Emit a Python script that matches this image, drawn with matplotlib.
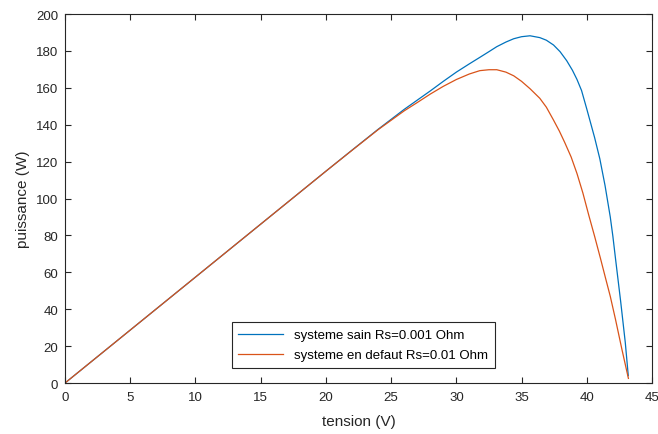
import numpy as np
import matplotlib.pyplot as plt

# courbes P(V)
v_sain = [0, 5, 10, 15, 20, 22, 24, 26, 28, 29, 30, 31, 31.8, 32.5, 33.1,
          33.8, 34.4, 35.0, 35.65, 36.4, 36.9, 37.45, 37.95, 38.46, 38.9,
          39.25, 39.6, 40.0, 40.6, 41.0, 41.4, 41.8, 42.0, 42.2, 42.6, 42.95,
          43.18]
p_sain = [0, 28.7, 57.4, 86.1, 114.8, 126.2, 137.5, 148.3, 158.3, 163.5,
          168.5, 173.0, 176.5, 179.6, 182.3, 184.8, 186.6, 187.7, 188.2,
          187.2, 185.8, 183.2, 179.6, 174.7, 169.5, 164.5, 158.5, 148.5,
          133.0, 121.5, 107.0, 90.0, 79.5, 67.5, 44.0, 22.0, 4.0]

v_defaut = [0, 5, 10, 15, 20, 22, 24, 26, 27, 28, 29, 30, 31, 31.8, 32.5,
            33.1, 33.8, 34.4, 35.0, 35.65, 36.4, 36.9, 37.45, 37.9, 38.3,
            38.8, 39.25, 39.7, 40.15, 40.6, 41.05, 41.45, 41.8, 42.2, 42.7,
            43.19]
p_defaut = [0, 28.7, 57.4, 86.1, 114.8, 126.1, 137.3, 147.5, 152.0, 156.6,
            160.8, 164.5, 167.5, 169.3, 169.8, 169.8, 168.5, 166.5, 163.5,
            159.5, 154.3, 149.5, 142.5, 136.5, 130.5, 122.5, 113.5, 103.0,
            91.0, 79.5, 67.5, 56.5, 47.0, 34.5, 18.0, 2.5]

labels = ["systeme sain Rs=0.001 Ohm", "systeme en defaut Rs=0.01 Ohm"]

plt.rcParams['font.family'] = ['Liberation Sans', 'DejaVu Sans']

fig = plt.figure(figsize=(6.58, 4.35), dpi=100)
ax = fig.add_axes([0.0988, 0.1172, 0.8921, 0.8483])

ax.plot(v_sain, p_sain, color='#0072BD', lw=0.9, label=labels[0])
ax.plot(v_defaut, p_defaut, color='#D95319', lw=0.9, label=labels[1])

ax.set_xlim(0, 45)
ax.set_ylim(0, 200)
ax.set_xticks(np.arange(0, 46, 5))
ax.set_yticks(np.arange(0, 201, 20))
ax.tick_params(direction='in', top=True, right=True, length=4, width=0.8,
               labelsize=9.5, colors='#262626')
ax.tick_params(axis='x', pad=6)
ax.tick_params(axis='y', pad=5)
for s in ax.spines.values():
    s.set_color('#262626')
    s.set_linewidth(0.8)

ax.set_xlabel("tension (V)", fontsize=11, color='#262626', labelpad=8)
ax.set_ylabel("puissance (W)", fontsize=11, color='#262626', labelpad=4)

leg = ax.legend(loc='lower center', bbox_to_anchor=(0.508, 0.041), fontsize=9.5,
                fancybox=False, framealpha=1, edgecolor='#262626',
                handlelength=3.4, borderpad=0.5, labelspacing=0.6,
                borderaxespad=0)
leg.get_frame().set_linewidth(0.8)

fig.savefig("out.png", dpi=100)
